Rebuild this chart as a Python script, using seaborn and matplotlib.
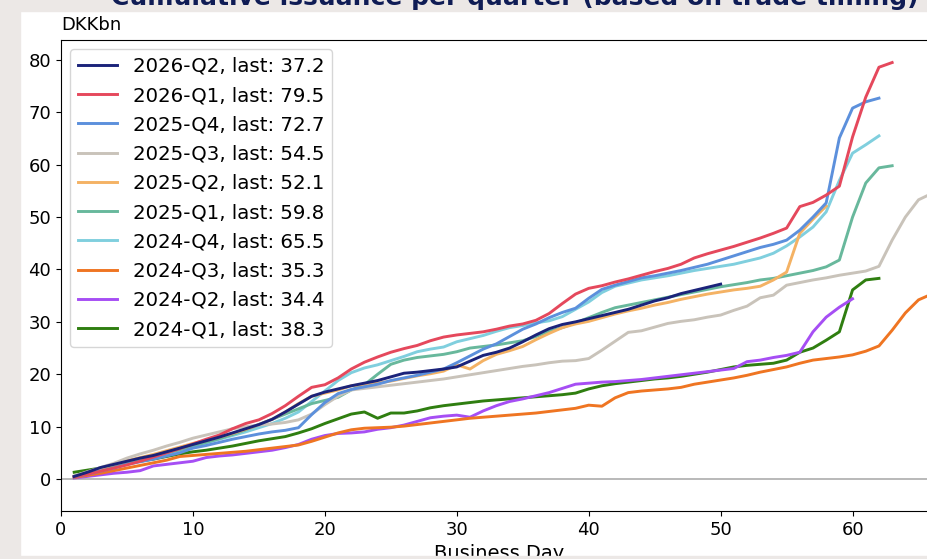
import matplotlib
matplotlib.use("Agg")
import numpy as np
import pandas as pd
import matplotlib.pyplot as plt
import seaborn as sns
from matplotlib.patches import Rectangle

# quarters in legend order, with their line colours
quarters = ["2026-Q2", "2026-Q1", "2025-Q4", "2025-Q3", "2025-Q2",
            "2025-Q1", "2024-Q4", "2024-Q3", "2024-Q2", "2024-Q1"]
colors = ["#1b237a", "#e5485c", "#5c90dc", "#c9c3ba", "#f4b264",
          "#68b89c", "#80cfde", "#ef7522", "#a64ef4", "#2f7e10"]

# cumulative amounts (DKKbn) per business day
q2026_2 = [0.5, 1.3, 2.2, 2.8, 3.4, 4.0, 4.5, 5.2, 5.9, 6.6,
           7.3, 8.0, 8.8, 9.6, 10.4, 11.4, 12.8, 14.3, 15.8, 16.6,
           17.2, 17.8, 18.3, 18.8, 19.5, 20.2, 20.4, 20.7, 21.0, 21.4,
           22.5, 23.6, 24.2, 25.0, 26.2, 27.5, 28.7, 29.5, 30.0, 30.6,
           31.2, 31.8, 32.4, 33.2, 34.0, 34.6, 35.4, 36.0, 36.6, 37.2]
q2026_1 = [0.4, 0.9, 1.5, 2.1, 2.7, 3.4, 4.2, 5.0, 5.8, 6.7,
           7.6, 8.4, 9.6, 10.6, 11.3, 12.5, 14.0, 15.8, 17.5, 18.0,
           19.3, 21.0, 22.3, 23.3, 24.2, 24.9, 25.5, 26.4, 27.1, 27.5,
           27.8, 28.1, 28.6, 29.2, 29.6, 30.3, 31.6, 33.5, 35.3, 36.4,
           36.9, 37.6, 38.2, 38.9, 39.6, 40.2, 41.0, 42.2, 43.0, 43.7,
           44.4, 45.2, 46.0, 46.9, 47.9, 52.0, 52.8, 54.2, 55.9, 65.3,
           72.9, 78.6, 79.5]
q2025_4 = [0.4, 0.9, 1.5, 2.1, 2.8, 3.3, 3.8, 4.4, 5.0, 5.9,
           6.4, 7.0, 7.6, 8.1, 8.6, 9.0, 9.3, 9.8, 12.3, 14.6,
           16.3, 17.1, 17.6, 18.1, 18.8, 19.3, 19.8, 20.4, 21.0, 22.2,
           23.5, 24.8, 25.8, 27.2, 28.6, 29.6, 30.8, 31.8, 32.6, 34.5,
           36.2, 37.0, 37.7, 38.4, 38.8, 39.3, 39.8, 40.4, 41.0, 41.8,
           42.6, 43.4, 44.2, 44.8, 45.6, 47.5, 50.0, 52.7, 65.1, 70.8,
           72.0, 72.7]
q2025_3 = [0.6, 1.4, 2.2, 3.0, 4.0, 4.8, 5.5, 6.3, 7.0, 7.8,
           8.4, 9.0, 9.6, 10.0, 10.3, 10.5, 10.8, 11.3, 12.4, 14.2,
           15.8, 17.0, 17.3, 17.6, 17.9, 18.2, 18.5, 18.8, 19.1, 19.5,
           19.9, 20.3, 20.7, 21.1, 21.5, 21.8, 22.2, 22.5, 22.6, 23.0,
           24.6, 26.3, 28.0, 28.3, 29.0, 29.7, 30.1, 30.4, 30.9, 31.3,
           32.2, 33.0, 34.6, 35.1, 37.0, 37.5, 38.0, 38.4, 38.9, 39.3,
           39.7, 40.6, 45.6, 50.0, 53.3, 54.5]
q2025_2 = [0.5, 1.3, 2.0, 2.8, 3.5, 4.1, 4.7, 5.4, 6.1, 6.8,
           7.4, 8.0, 8.7, 9.5, 10.4, 11.4, 12.8, 14.4, 15.8, 16.4,
           17.0, 17.8, 18.1, 18.3, 18.7, 19.2, 19.7, 20.1, 20.6, 21.8,
           21.0, 22.6, 23.8, 24.5, 25.3, 26.6, 27.8, 28.9, 29.6, 30.1,
           30.8, 31.5, 32.1, 32.6, 33.2, 33.7, 34.3, 34.8, 35.3, 35.7,
           36.1, 36.4, 36.8, 38.0, 39.5, 46.9, 49.6, 52.1]
q2025_1 = [0.4, 1.0, 1.7, 2.4, 3.1, 3.7, 4.3, 5.0, 5.6, 6.3,
           7.0, 7.7, 8.5, 9.4, 10.4, 11.4, 12.4, 13.4, 14.4, 15.0,
           15.6, 17.0, 18.0, 20.0, 21.9, 22.7, 23.2, 23.5, 23.8, 24.3,
           25.0, 25.3, 25.6, 26.0, 26.4, 27.2, 28.2, 28.9, 29.8, 30.8,
           31.8, 32.7, 33.2, 33.7, 34.2, 34.7, 35.2, 35.7, 36.2, 36.7,
           37.1, 37.5, 38.0, 38.3, 38.8, 39.3, 39.8, 40.5, 41.8, 50.0,
           56.5, 59.4, 59.8]
q2024_4 = [0.5, 1.1, 1.7, 2.3, 2.9, 3.5, 4.1, 4.8, 5.5, 6.2,
           6.9, 7.6, 8.3, 9.0, 9.8, 10.6, 11.6, 12.8, 14.8, 16.8,
           18.8, 20.3, 21.2, 21.8, 22.6, 23.4, 24.3, 24.8, 25.2, 26.2,
           26.8, 27.4, 28.2, 28.9, 29.3, 29.8, 30.2, 31.0, 32.4, 33.8,
           35.6, 36.8, 37.4, 38.0, 38.4, 38.8, 39.3, 39.8, 40.2, 40.6,
           41.0, 41.6, 42.2, 43.1, 44.5, 46.2, 48.1, 51.0, 57.0, 62.2,
           63.8, 65.5]
q2024_3 = [0.3, 0.7, 1.1, 1.6, 2.1, 2.6, 3.1, 3.6, 4.3, 4.5,
           4.7, 4.9, 5.1, 5.3, 5.6, 5.9, 6.2, 6.5, 7.2, 8.0,
           8.8, 9.4, 9.7, 9.8, 9.9, 10.1, 10.4, 10.7, 11.0, 11.3,
           11.6, 11.8, 12.0, 12.2, 12.4, 12.6, 12.9, 13.2, 13.5, 14.1,
           13.9, 15.5, 16.5, 16.8, 17.0, 17.2, 17.5, 18.1, 18.5, 18.9,
           19.3, 19.8, 20.4, 20.9, 21.4, 22.1, 22.7, 23.0, 23.3, 23.7,
           24.4, 25.4, 28.4, 31.7, 34.2, 35.3]
q2024_2 = [0.2, 0.5, 0.8, 1.1, 1.3, 1.6, 2.5, 2.8, 3.1, 3.4,
           4.1, 4.4, 4.6, 4.9, 5.2, 5.5, 6.0, 6.6, 7.6, 8.3,
           8.7, 8.8, 9.0, 9.5, 9.8, 10.3, 11.0, 11.7, 12.0, 12.2,
           11.8, 13.0, 14.0, 14.8, 15.3, 15.9, 16.5, 17.3, 18.1, 18.3,
           18.5, 18.6, 18.8, 19.0, 19.3, 19.6, 19.9, 20.2, 20.5, 20.8,
           21.1, 22.4, 22.7, 23.2, 23.6, 24.2, 28.1, 30.9, 32.8, 34.4]
q2024_1 = [1.3, 1.7, 2.1, 2.6, 3.0, 3.4, 3.8, 4.3, 4.8, 5.2,
           5.5, 5.9, 6.3, 6.8, 7.3, 7.7, 8.1, 8.8, 9.6, 10.6,
           11.5, 12.4, 12.8, 11.6, 12.6, 12.6, 13.0, 13.6, 14.0, 14.3,
           14.6, 14.9, 15.1, 15.3, 15.5, 15.7, 15.9, 16.1, 16.4, 17.2,
           17.8, 18.2, 18.5, 18.8, 19.1, 19.3, 19.6, 20.0, 20.4, 20.9,
           21.4, 21.7, 21.9, 22.1, 22.7, 24.2, 25.0, 26.5, 28.1, 36.1,
           38.0, 38.3]

series = [q2026_2, q2026_1, q2025_4, q2025_3, q2025_2,
          q2025_1, q2024_4, q2024_3, q2024_2, q2024_1]

frames = []
labels = []
for q, vals in zip(quarters, series):
    lab = "{}, last: {:.1f}".format(q, vals[-1])
    labels.append(lab)
    frames.append(pd.DataFrame({"day": np.arange(1, len(vals) + 1),
                                "value": vals, "label": lab}))
df = pd.concat(frames, ignore_index=True)

plt.rcParams["font.family"] = ["DejaVu Sans"]
plt.rcParams["xtick.labelsize"] = 13
plt.rcParams["ytick.labelsize"] = 13

fig = plt.figure(figsize=(9.28, 5.59), dpi=100)
ax = fig.add_axes([61 / 928, 48 / 559, 876 / 928, 471 / 559])

ax.axhline(0, color="#b3b3b3", lw=1.3, zorder=0)
# draw oldest first so the newest quarter sits on top
sns.lineplot(data=df, x="day", y="value", hue="label",
             hue_order=labels[::-1], palette=colors[::-1],
             lw=2.1, ax=ax, legend=True)

leg = ax.get_legend()
handles = list(leg.legend_handles)[::-1]
texts = [t.get_text() for t in leg.texts][::-1]
for h in handles:
    h.set_linewidth(2.1)
ax.legend(handles, texts, loc="upper left", fontsize=14.2,
          borderaxespad=0.45, handlelength=2.0, labelspacing=0.52)

ax.set_xlim(0, 66.4)
ax.set_ylim(-6.1, 83.8)
ax.set_xticks([0, 10, 20, 30, 40, 50, 60])
ax.set_yticks([0, 10, 20, 30, 40, 50, 60, 70, 80])
ax.set_xlabel("Business Day", fontsize=14)
ax.set_ylabel("")
ax.text(0.0, 1.012, "DKKbn", transform=ax.transAxes, fontsize=13,
        ha="left", va="bottom")

# screenshot frame around the figure
frame_col = "#ece8e6"
fig.patches.append(Rectangle((0, 0), 20 / 928, 1, transform=fig.transFigure,
                             color=frame_col, zorder=5))
fig.patches.append(Rectangle((0, 1 - 11 / 559), 1, 11 / 559, transform=fig.transFigure,
                             color=frame_col, zorder=5))
fig.patches.append(Rectangle((0, 0), 1, 3 / 559, transform=fig.transFigure,
                             color=frame_col, zorder=5))
fig.text(0.555, 1 - 5 / 559, "Cumulative issuance per quarter (based on trade timing)",
         ha="center", va="baseline", fontsize=18, fontweight="bold",
         color="#0f1c55", zorder=6)

fig.savefig("out.png", dpi=100)
